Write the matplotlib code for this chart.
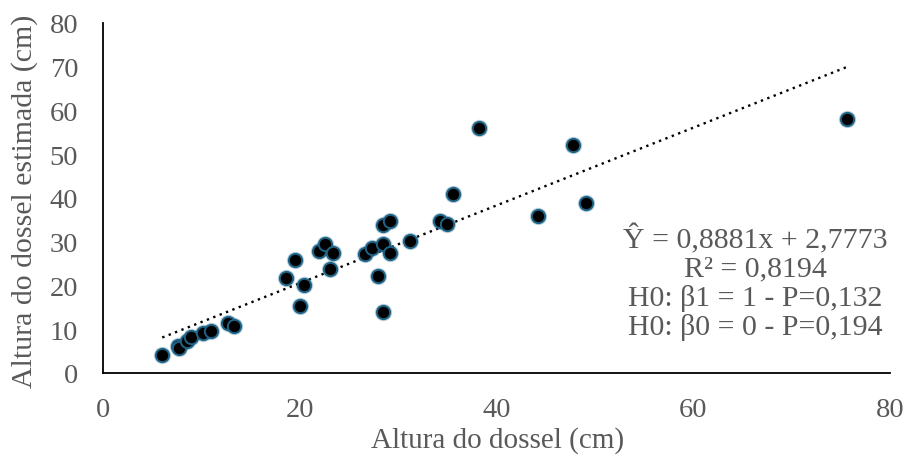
import matplotlib
matplotlib.use("Agg")
import matplotlib.pyplot as plt
import numpy as np

# observed vs estimated canopy height (cm)
altura_obs = [6.0, 7.6, 7.7, 8.5, 8.9, 10.1, 11.0, 12.7, 13.3, 18.6, 19.5, 20.4,
              20.0, 21.9, 22.5, 23.4, 23.1, 26.6, 27.3, 28.4, 27.9, 28.4, 29.2,
              28.4, 29.2, 31.2, 34.2, 35.0, 35.6, 38.2, 44.2, 47.8, 49.1, 75.6]
altura_est = [4.1, 6.1, 5.7, 7.4, 8.2, 9.1, 9.7, 11.4, 10.7, 21.7, 25.8, 20.2,
              15.4, 27.8, 29.5, 27.4, 23.8, 27.2, 28.5, 29.5, 22.2, 13.9, 27.5,
              33.8, 34.8, 30.2, 34.8, 34.1, 40.9, 56.0, 35.8, 52.2, 38.9, 58.1]

slope = 0.8881
intercept = 2.7773
anot = ["Ŷ = 0,8881x + 2,7773",
        "R² = 0,8194",
        "H0: β1 = 1 - P=0,132",
        "H0: β0 = 0 - P=0,194"]

plt.rcParams['font.family'] = ['Liberation Serif', 'DejaVu Serif']
cinza = '#595959'

fig = plt.figure(figsize=(9.09, 4.60), dpi=100)
ax = fig.add_axes([0.1136, 0.187, 0.8655, 0.761])

# linha de tendencia
xl = np.array([min(altura_obs), max(altura_obs)])
ax.plot(xl, slope * xl + intercept, color='black', lw=1.7,
        linestyle=(0, (1, 1.9)), zorder=2)

# pontos (com leve brilho na borda)
ax.scatter(altura_obs, altura_est, s=12.5**2, color='#2E7396', alpha=0.3,
           linewidths=0, zorder=3)
ax.scatter(altura_obs, altura_est, s=9.6**2, facecolor='black',
           edgecolor='#1F6486', linewidths=1.4, zorder=4)

ax.set_xlim(0, 80)
ax.set_ylim(0, 80)
ax.set_xticks(range(0, 81, 20))
ax.set_yticks(range(0, 81, 10))
ax.tick_params(length=0, labelsize=20.5, labelcolor=cinza)
ax.tick_params(axis='x', pad=17)
ax.tick_params(axis='y', pad=18)

for s in ['top', 'right']:
    ax.spines[s].set_visible(False)
for s in ['left', 'bottom']:
    ax.spines[s].set_linewidth(1.3)
    ax.spines[s].set_color('black')

fig.text(0.547, 0.043, "Altura do dossel (cm)", fontsize=21, color=cinza,
         ha='center', va='center')
fig.text(0.0275, 0.563, "Altura do dossel estimada (cm)", fontsize=21.5,
         color=cinza, ha='center', va='center', rotation=90)

ax.text(66.3, 20.9, "\n".join(anot), fontsize=21.5, color=cinza,
        ha='center', va='center', linespacing=1.1)

fig.savefig("out.png", dpi=100)
